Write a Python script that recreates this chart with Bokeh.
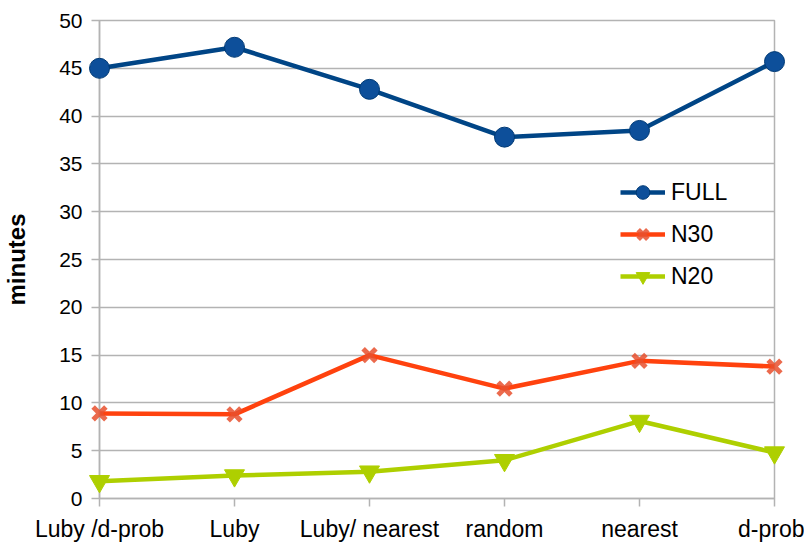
from bokeh.plotting import figure
from bokeh.models import FixedTicker, Range1d, Legend, LegendItem
from bokeh.embed import file_html
from bokeh.resources import INLINE

categories = ["Luby /d-prob", "Luby", "Luby/ nearest", "random", "nearest", "d-prob"]
full = [45.0, 47.2, 42.8, 37.8, 38.5, 45.7]
n30 = [8.9, 8.8, 15.0, 11.5, 14.4, 13.8]
n20 = [1.8, 2.4, 2.8, 4.0, 8.1, 4.8]
y_ticks = list(range(0, 51, 5))

xs = list(range(len(categories)))
FONT = "Liberation Sans"
GRID = "#b3b3b3"

p = figure(width=804, height=544, output_backend="svg", toolbar_location=None,
           x_range=Range1d(0, len(categories) - 1), y_range=Range1d(0, 50),
           min_border_left=99, min_border_right=30, min_border_top=20, min_border_bottom=38)
p.background_fill_color = "white"
p.border_fill_color = "white"
p.outline_line_color = GRID
p.outline_line_width = 1.5

p.xgrid.visible = False
p.ygrid.grid_line_color = GRID
p.ygrid.grid_line_width = 1.5
p.ygrid.ticker = FixedTicker(ticks=y_ticks)

p.yaxis.ticker = FixedTicker(ticks=y_ticks)
p.xaxis.ticker = FixedTicker(ticks=xs)
p.xaxis.major_label_overrides = {i: c for i, c in enumerate(categories)}
for ax in (p.xaxis, p.yaxis):
    ax.axis_line_color = GRID
    ax.axis_line_width = 1.5
    ax.major_tick_line_color = GRID
    ax.major_tick_line_width = 1.5
    ax.major_tick_out = 8
    ax.major_tick_in = 0
    ax.minor_tick_line_color = None
    ax.major_label_text_font = FONT
    ax.major_label_text_color = "black"
p.xaxis.major_label_text_font_size = "23px"
p.xaxis.major_label_standoff = 9
p.yaxis.major_label_text_font_size = "21px"
p.yaxis.major_label_standoff = 9
p.yaxis.axis_label = "minutes"
p.yaxis.axis_label_text_font = FONT
p.yaxis.axis_label_text_font_size = "24px"
p.yaxis.axis_label_text_font_style = "bold"
p.yaxis.axis_label_text_color = "black"
p.yaxis.axis_label_standoff = 26

c_full, c_n30, c_n20 = "#004586", "#ff420e", "#aecf00"

l1 = p.line(xs, full, line_color=c_full, line_width=4.5)
m1 = p.scatter(xs, full, marker="circle", size=20, fill_color="#0d4f9a", line_color="#003a75",
               line_width=1, level="overlay")
l2 = p.line(xs, n30, line_color=c_n30, line_width=4.5)
m2 = p.scatter(xs, n30, marker="x", size=18, line_color="#e8502e", line_width=5, line_alpha=0.85,
               level="overlay")
l3 = p.line(xs, n20, line_color=c_n20, line_width=4.5)
m3 = p.scatter(xs, n20, marker="inverted_triangle", size=20, fill_color=c_n20, line_color=c_n20,
               level="overlay")

legend = Legend(items=[
    LegendItem(label="FULL", renderers=[l1, m1]),
    LegendItem(label="N30", renderers=[l2, m2]),
    LegendItem(label="N20", renderers=[l3, m3]),
], location=(521, 205), padding=0, margin=0, spacing=8,
    glyph_width=45, glyph_height=34, label_height=34, label_standoff=6,
    label_text_font=FONT, label_text_font_size="23px", label_text_color="black",
    background_fill_alpha=0, border_line_color=None)
p.add_layout(legend)

open("out.html", "w").write(file_html(p, INLINE))
